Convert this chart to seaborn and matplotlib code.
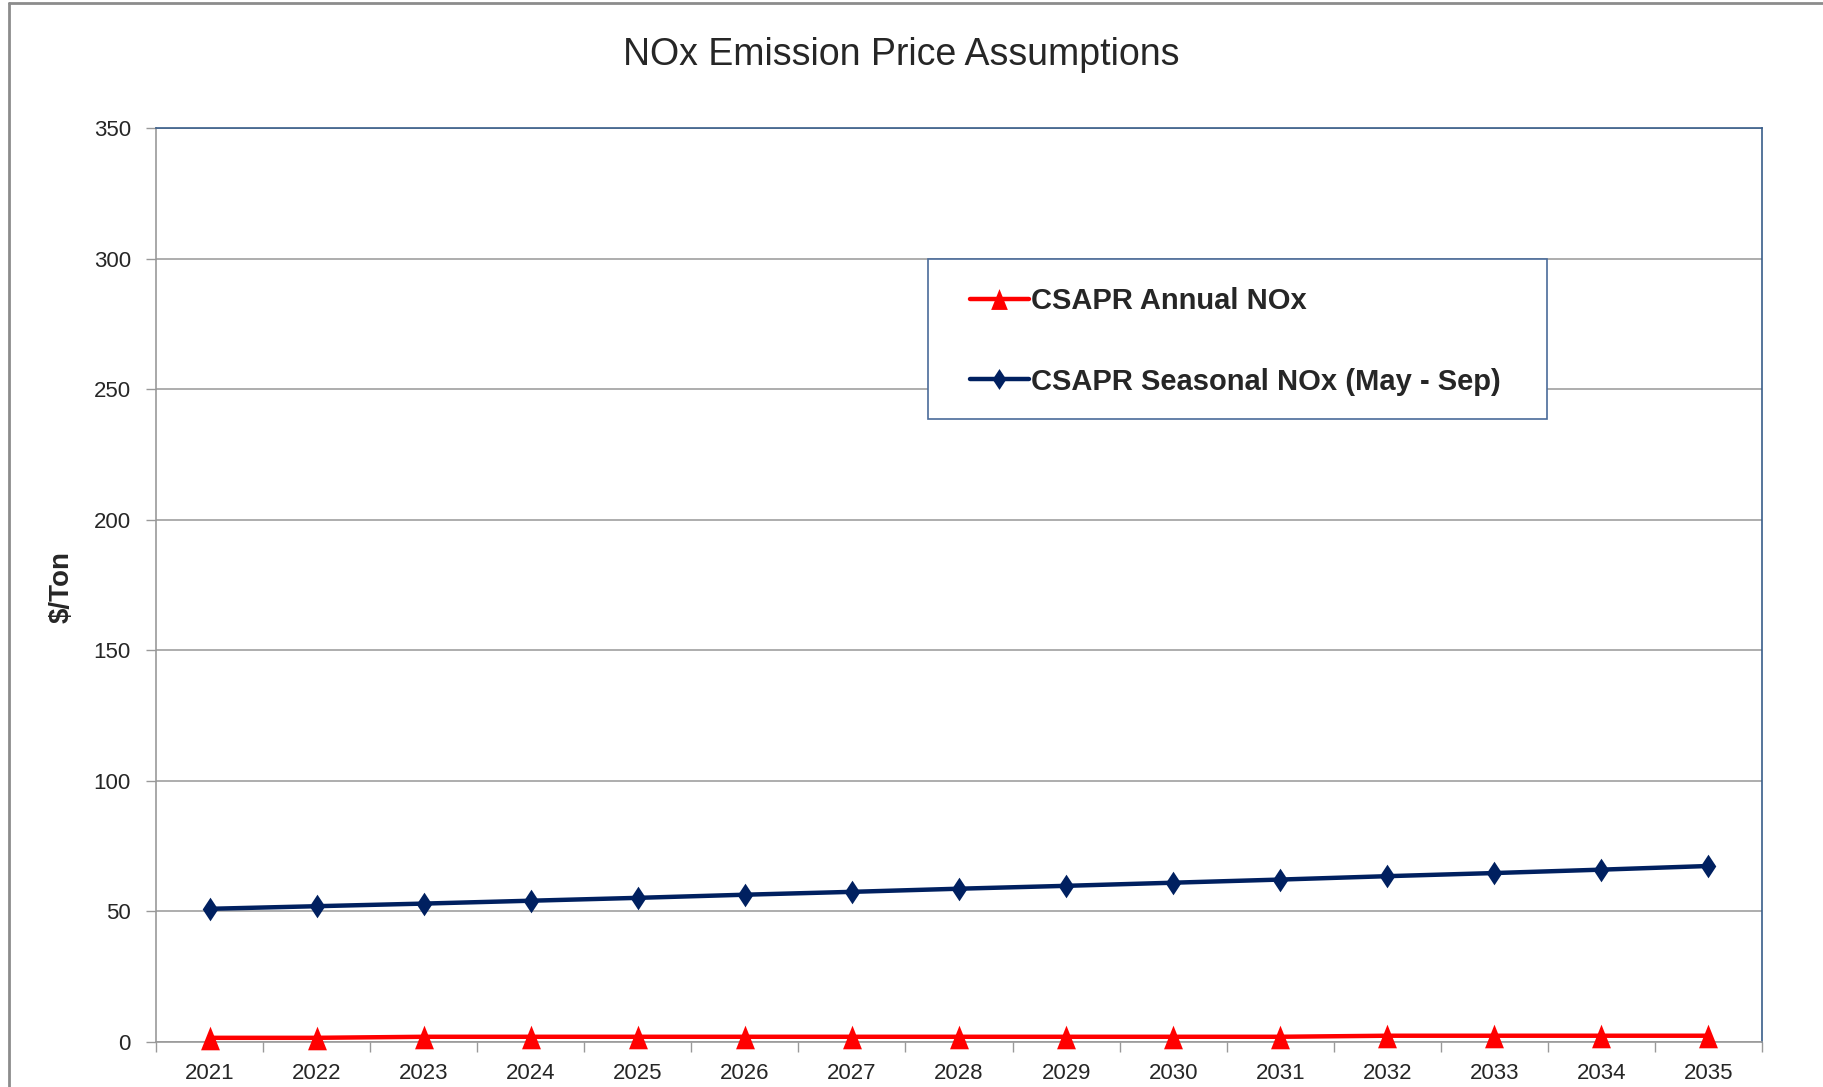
import matplotlib
matplotlib.use("Agg")
import matplotlib.pyplot as plt
from matplotlib.lines import Line2D
from matplotlib.patches import Rectangle
import numpy as np
import pandas as pd
import seaborn as sns

# chart data
years = ["2021", "2022", "2023", "2024", "2025", "2026", "2027", "2028",
         "2029", "2030", "2031", "2032", "2033", "2034", "2035"]
annual_nox = [1.6, 1.6, 2.0, 2.0, 2.0, 2.0, 2.0, 2.0, 2.0, 2.0, 2.0, 2.4, 2.4, 2.4, 2.4]
seasonal_nox = [51.0, 52.0, 53.0, 54.1, 55.2, 56.4, 57.5, 58.7, 59.8, 61.0, 62.2,
                63.5, 64.7, 66.0, 67.4]
series_names = ["CSAPR Annual NOx", "CSAPR Seasonal NOx (May - Sep)"]
y_ticks = [0, 50, 100, 150, 200, 250, 300, 350]

df = pd.DataFrame({
    "pos": list(range(len(years))) * 2,
    "value": annual_nox + seasonal_nox,
    "series": [series_names[0]] * len(years) + [series_names[1]] * len(years),
})

sns.set_style("white")
plt.rcParams["font.family"] = ["Liberation Sans", "DejaVu Sans"]

fig = plt.figure(figsize=(18.24, 10.87), dpi=100)
ax = fig.add_axes([156 / 1824, 45 / 1087, 1606 / 1824, 914 / 1087])

# Excel style markers
diamond = [(0, 1), (0.66, 0), (0, -1), (-0.66, 0), (0, 1)]
tri = [(0, 1), (0.8, -1), (-0.8, -1), (0, 1)]

sns.lineplot(data=df[df["series"] == series_names[0]], x="pos", y="value",
             color="#FF0000", linewidth=3.2, marker=tri, markersize=17,
             markeredgewidth=0, label=series_names[0], ax=ax, zorder=3, clip_on=False)
sns.lineplot(data=df[df["series"] == series_names[1]], x="pos", y="value",
             color="#002060", linewidth=3.2, marker=diamond, markersize=17,
             markeredgewidth=0, label=series_names[1], ax=ax, zorder=3, clip_on=False)

ax.set_xlim(-0.5, len(years) - 0.5)
ax.set_ylim(0, 350)
ax.set_xticks(range(len(years)))
ax.set_xticklabels(years)
ax.set_xticks(np.arange(-0.5, len(years)), minor=True)
ax.set_yticks(y_ticks)
ax.tick_params(axis="x", which="major", length=0, pad=15, labelsize=16)
ax.tick_params(axis="x", which="minor", length=7, width=1, color="#999999", bottom=True)
ax.tick_params(axis="y", length=7, width=1, color="#999999", pad=11, labelsize=16, left=True)

ax.yaxis.grid(True, color="#A0A0A0", linewidth=1.2)
ax.xaxis.grid(False)
ax.set_axisbelow(True)
for side in ["top", "right"]:
    ax.spines[side].set_color("#385D8A")
    ax.spines[side].set_linewidth(1.2)
for side in ["left", "bottom"]:
    ax.spines[side].set_color("#999999")
    ax.spines[side].set_linewidth(1.2)

ax.set_xlabel("")
ax.set_ylabel("")
fig.text(62 / 1824, 1 - 587 / 1087, "$/Ton", rotation=90, ha="center", va="center",
         fontsize=20, fontweight="bold")
fig.text(901 / 1824, 1 - 55 / 1087, "NOx Emission Price Assumptions",
         ha="center", va="center", fontsize=27)

# legend box drawn separately (Excel leaves wide side margins)
ax.add_patch(Rectangle((0.481, 0.682), 0.385, 0.175, transform=ax.transAxes,
                       facecolor="white", edgecolor="#4A6B9A", linewidth=1.2, zorder=4))
leg = ax.legend(loc="upper left", bbox_to_anchor=(0.507, 0.826),
                prop={"weight": "bold", "size": 21}, frameon=False,
                borderpad=0, borderaxespad=0, labelspacing=1.8,
                handlelength=2.0, handletextpad=0.1, numpoints=1)
leg.set_zorder(5)
for h in leg.legend_handles:
    h.set_markersize(15)

# outer chart frame edges
fig.add_artist(Line2D([9 / 1824, 9 / 1824], [0, 1 - 3 / 1087], color="#8C8C8C", linewidth=2))
fig.add_artist(Line2D([9 / 1824, 1], [1 - 3 / 1087, 1 - 3 / 1087], color="#8C8C8C", linewidth=2))

fig.savefig("out.png", dpi=100)
